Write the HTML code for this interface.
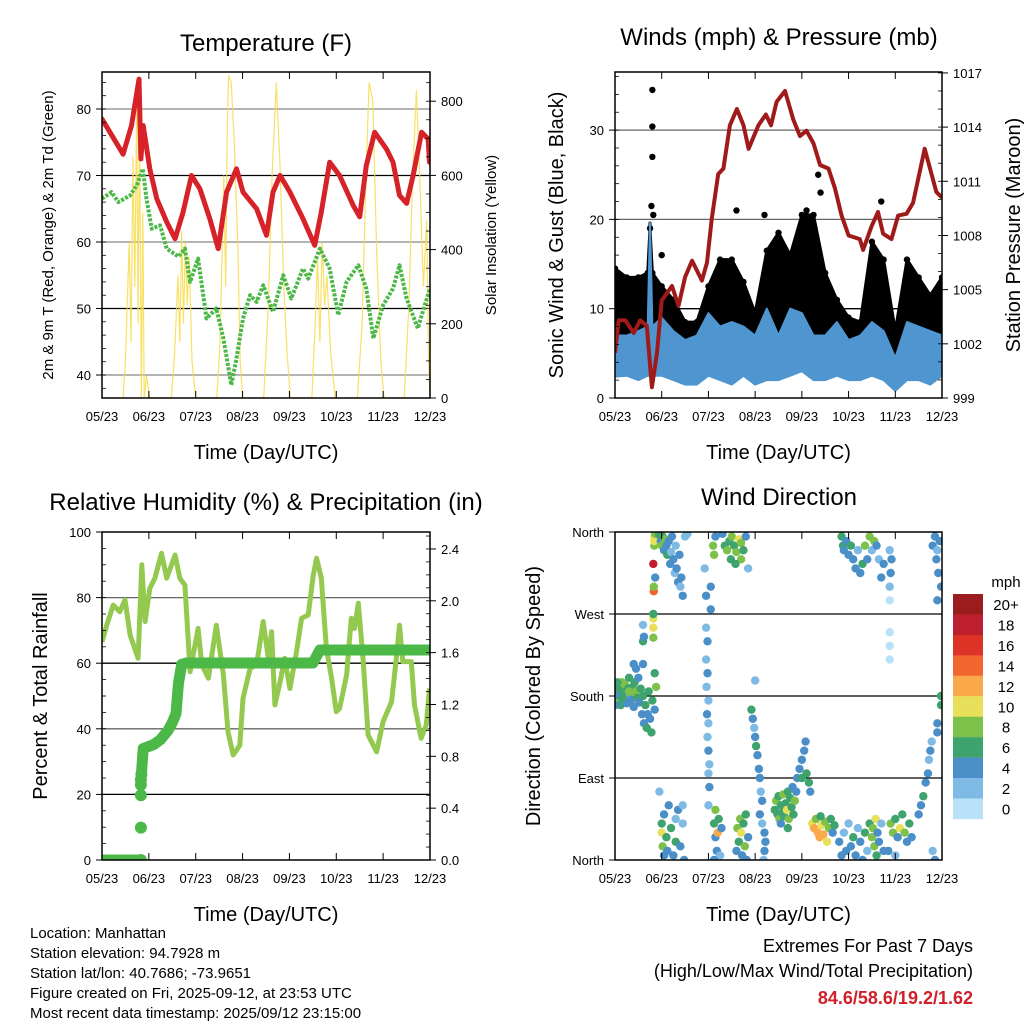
<!DOCTYPE html>
<html><head><meta charset="utf-8">
<style>
html,body{margin:0;padding:0;background:#fff;}
svg{display:block;font-family:"Liberation Sans",sans-serif;}
</style></head>
<body>
<svg id="c" width="1024" height="1024" viewBox="0 0 1024 1024" xmlns="http://www.w3.org/2000/svg"></svg>
<script>
// ---------- DATA ----------
const dayTicks = ["05/23","06/23","07/23","08/23","09/23","10/23","11/23","12/23"];
// Temperature (red)
const tempT = [0,0.17,0.45,0.63,0.79,0.83,0.88,1.02,1.17,1.38,1.56,1.73,1.91,2.09,2.3,2.48,2.66,2.87,3.01,3.3,3.51,3.65,3.8,4.01,4.29,4.54,4.68,4.86,5.07,5.36,5.5,5.64,5.82,6.07,6.21,6.35,6.5,6.64,6.82,6.96,6.99];
const tempV = [78.5,76.5,73.2,77.5,84.5,72.5,77.5,71,66.5,63,60.5,64.5,70,68,63.5,59,67.5,71,67.5,65,61,67.5,70,67.5,63.5,59.5,64.5,72,70,65.5,63.8,71.5,76.5,74,72,67,65.8,70,76.5,75.5,72];
// Dewpoint (green)
const dewT = [0,0.2,0.35,0.6,0.74,0.87,0.95,1.06,1.24,1.38,1.63,1.77,1.88,2.05,2.23,2.44,2.59,2.76,2.87,3.01,3.16,3.3,3.44,3.65,3.87,4.04,4.29,4.4,4.65,4.86,5.04,5.22,5.47,5.64,5.79,6.0,6.21,6.35,6.5,6.74,6.89,7];
const dewV = [66.5,67.5,66,67,68.5,71,66.5,62,62.5,59,57.8,59,54,57.5,48.5,50,45.5,38.5,42.5,48.5,52,51,53.5,49.5,55,51.5,56,54.5,59,56,49,54,56.5,53,45.5,50.5,53,56.5,51.5,47,50.5,53];
// Solar insolation (yellow)
const solT = [0,0.45,0.5,0.58,0.62,0.66,0.7,0.74,0.77,0.8,0.84,0.87,0.9,0.95,1.02,1.48,1.55,1.62,1.66,1.7,1.74,1.78,1.82,1.86,1.92,2.0,2.45,2.52,2.6,2.64,2.67,2.7,2.76,2.82,2.9,2.95,3.0,3.45,3.55,3.63,3.72,3.8,3.88,3.95,4.02,4.48,4.55,4.6,4.65,4.7,4.75,4.8,4.88,4.98,5.45,5.55,5.63,5.7,5.78,5.86,5.95,6.02,6.45,6.55,6.63,6.71,6.78,6.86,6.93,6.97,7.0];
const solV = [0,0,100,420,150,650,300,800,200,760,0,500,0,60,0,0,120,330,150,450,200,420,250,380,100,0,0,150,600,300,700,870,850,700,400,100,0,0,250,600,850,620,300,120,0,0,200,380,150,420,250,330,120,0,0,200,580,850,800,400,100,0,0,250,600,830,600,300,480,100,0];
// Winds & pressure
const presT = [0,0.08,0.22,0.4,0.54,0.68,0.79,0.9,1.0,1.22,1.36,1.5,1.65,1.86,1.97,2.07,2.21,2.32,2.46,2.61,2.75,2.86,3.07,3.23,3.34,3.46,3.64,3.82,3.96,4.1,4.25,4.39,4.57,4.71,4.85,5.0,5.24,5.31,5.49,5.63,5.74,5.92,6.06,6.24,6.38,6.63,6.88,7];
const presV = [1001.5,1003.3,1003.3,1002.6,1003.3,1003,999.6,1001.5,1004.4,1005.2,1004.1,1005.7,1006.6,1005.5,1006.5,1008.9,1011.4,1011.7,1014.1,1015,1014.1,1012.8,1014.1,1014.7,1014.1,1015.4,1016,1014.4,1013.5,1013.8,1013.1,1011.9,1011.7,1010.6,1009.1,1008,1007.8,1007.2,1008.5,1009.3,1008.1,1007.8,1009.1,1009.2,1009.8,1012.8,1010.4,1010.1];
const windT = [0,0.25,0.5,0.7,0.75,0.8,1,1.25,1.5,1.75,2,2.25,2.5,2.75,3,3.25,3.5,3.75,4,4.25,4.5,4.75,5,5.25,5.5,5.75,6,6.25,6.5,6.75,7];
const gustHi = [14.5,13.5,13.5,14,19,14,12.5,11,8.5,8.5,12.5,15.5,15.5,13,9.5,16.5,18.5,16,20.5,20.5,14,11,9,8.5,17.5,15.5,7.5,15.5,13.5,11.5,13.5];
const windHi = [7,7,7.5,8,19.6,8,9,7.5,6.5,7,9.5,8,8.5,8,7,10,7,10,9.5,7,7,8.5,6.5,7,8.5,7.5,4.5,8.5,8,7.5,7];
const windLo = [2.4,2.5,2,2.5,2.5,2.5,2.5,2,1.5,1.5,2.5,2,1.5,2.5,1.5,2,2,2.5,3,2,2,2.5,2,2,2.5,2,0.8,2,2,1.5,2.5];
const gustOutT = [0.8,0.8,0.8,0.78,0.82,2.6,4.35,4.4,5.7,1.0,3.2,4.1];
const gustOutV = [34.5,30.4,27,21.5,20.5,21,25,23,22,16,20.5,21];
// Humidity & precip
const rhT = [0,0.1,0.24,0.38,0.49,0.6,0.77,0.85,0.92,1.02,1.13,1.27,1.38,1.56,1.66,1.77,1.88,2.05,2.13,2.27,2.44,2.59,2.69,2.8,2.94,3.01,3.16,3.3,3.44,3.55,3.62,3.69,3.8,3.9,4.01,4.15,4.26,4.4,4.51,4.58,4.68,4.79,4.9,5.0,5.07,5.22,5.32,5.39,5.47,5.57,5.68,5.86,6.0,6.18,6.28,6.35,6.42,6.6,6.67,6.81,6.92,6.99];
const rhV = [66.5,71.6,77.7,75.7,79.3,68.6,61.5,90,72.7,82.8,85.9,93.5,85.9,93,85.9,83.8,57.4,70.6,59.5,55.4,71.6,56.4,39.1,32,35,49.3,58.4,59.5,72.7,61.5,69.6,47.3,54.4,61.5,52.3,63.5,73.7,74.7,86.9,92,85.9,64.5,55.4,45.2,46.2,56.4,73.7,70.6,78.3,61.5,38.1,33,42.2,48.3,61.5,71.6,60.5,60.5,47.3,37.1,41.2,52.3];
const prT = [0,0.2,0.4,0.6,0.83,0.83,0.83,0.83,0.83,0.84,0.88,1.1,1.25,1.41,1.5,1.58,1.63,1.7,1.8,2.5,3.5,4.5,4.65,5.5,6.5,7];
const prV = [0,0,0,0,0,0.25,0.5,0.58,0.62,0.66,0.86,0.89,0.93,1.0,1.06,1.13,1.36,1.51,1.52,1.52,1.52,1.52,1.62,1.62,1.62,1.62];
// Wind direction: [day, degrees, speed]
const dirPts = [
[0.02,185,6],[0.05,175,8],[0.08,190,7],[0.1,180,4],[0.12,170,6],[0.15,195,8],[0.18,185,7],[0.2,178,5],[0.22,192,8],[0.25,172,4],[0.28,188,6],[0.3,200,7],[0.33,182,8],[0.35,176,5],[0.38,190,6],[0.4,168,4],[0.42,195,6],[0.45,185,8],[0.48,178,7],[0.5,200,5],[0.52,173,4],[0.55,188,7],[0.58,160,4],[0.6,180,6],[0.62,150,4],[0.65,170,7],[0.68,145,6],[0.7,160,4],[0.72,185,6],[0.75,155,5],[0.78,140,6],[0.8,175,7],[0.85,165,4],[0.88,190,8],[0.4,215,4],[0.45,210,4],[0.6,215,4],[0.85,205,6],[0.0,170,4],[0.05,195,6],[0.15,178,6],[0.3,185,8],
[0.6,240,6],[0.62,245,4],[0.6,258,2],[0.82,244,8],[0.82,255,10],[0.82,265,10],[0.82,270,6],[0.83,295,14],[0.83,300,8],[0.82,325,18],[0.86,310,4],[0.84,345,8],[0.84,350,10],[0.84,355,10],[0.86,358,8],
[0.95,357,6],[0.98,350,4],[1.0,345,8],[1.02,355,6],[1.05,340,4],[1.08,352,8],[1.1,345,4],[1.12,335,6],[1.15,350,4],[1.18,325,4],[1.2,338,2],[1.22,355,4],[1.25,330,4],[1.28,315,2],[1.3,345,2],[1.32,320,4],[1.35,305,4],[1.4,300,2],[1.38,335,4],[1.42,310,4],[1.45,290,4],[1.5,355,2],[1.55,358,2],
[0.95,75,2],[1.0,40,6],[1.02,15,8],[1.0,30,10],[1.05,50,4],[1.05,5,4],[1.1,25,6],[1.12,10,4],[1.15,60,4],[1.2,35,6],[1.25,5,4],[1.3,20,6],[1.3,45,2],[1.35,55,4],[1.4,15,4],[1.45,40,2],[1.48,0,4],[1.45,60,2],
[1.92,320,2],[1.95,290,4],[1.95,255,2],[1.98,240,4],[1.95,220,2],[1.98,205,4],[1.96,190,2],[2.0,175,2],[1.97,160,4],[2.0,150,2],[1.98,135,2],[2.0,120,4],[2.02,105,2],[2.0,95,2],[2.02,80,4],[2.0,60,2],[2.05,300,4],[2.05,275,4],
[2.12,40,6],[2.15,25,4],[2.15,55,8],[2.18,10,4],[2.2,30,12],[2.22,45,6],[2.25,5,2],[2.12,0,4],[2.28,35,4],
[2.1,345,8],[2.12,335,8],[2.15,355,4],[2.3,358,4],[2.35,345,6],[2.4,340,8],[2.45,350,6],[2.48,330,6],[2.5,355,8],[2.55,345,6],[2.6,338,8],[2.65,352,10],[2.7,348,8],[2.75,340,6],[2.8,355,4],[2.7,330,8],[2.58,325,6],[2.85,320,2],
[2.6,10,4],[2.62,35,8],[2.65,20,6],[2.68,45,8],[2.7,30,10],[2.72,5,4],[2.75,40,6],[2.78,15,8],[2.8,50,6],[2.85,25,4],[2.82,0,4],
[2.92,165,6],[2.95,155,4],[2.98,145,2],[3.0,135,4],[3.02,125,6],[3.05,115,4],[3.08,100,4],[3.1,90,4],[3.12,75,2],[3.15,65,4],[3.1,50,4],[3.15,40,2],[3.2,30,4],[3.22,20,4],[3.18,0,2],[3.2,10,4],[3.0,197,2],
[3.42,55,6],[3.45,65,8],[3.48,50,6],[3.5,70,6],[3.52,45,8],[3.55,60,6],[3.58,52,6],[3.6,72,8],[3.62,48,6],[3.65,62,6],[3.68,55,10],[3.7,75,6],[3.72,45,8],[3.75,68,6],[3.78,58,6],[3.8,80,4],[3.82,50,6],[3.85,65,8],[3.88,75,4],[3.55,40,4],[3.7,35,6],
[3.9,90,4],[3.95,100,4],[4.0,110,4],[4.05,120,4],[4.08,130,4],[4.1,95,6],[4.15,85,6],[4.18,75,4],[4.0,90,6],
[4.22,40,10],[4.26,35,12],[4.3,45,8],[4.34,30,12],[4.38,25,12],[4.42,38,10],[4.46,28,12],[4.5,42,8],[4.54,20,10],[4.58,35,8],[4.62,45,6],[4.66,30,4],[4.7,38,6],[4.4,48,6],
[4.8,20,4],[4.85,5,4],[4.9,30,2],[4.95,10,4],[5.0,40,2],[5.05,15,4],[5.1,25,6],[5.15,5,4],[5.2,35,2],[5.25,20,4],[5.3,0,4],[5.35,30,6],[5.4,10,2],[5.45,40,6],[5.5,25,8],[5.52,35,8],[5.55,15,8],[5.58,45,10],[5.6,5,6],[5.62,30,4],[5.65,20,4],[5.7,40,2],[5.75,10,4],
[4.85,355,6],[4.88,345,6],[4.9,340,4],[4.95,350,4],[5.0,335,4],[5.05,345,6],[5.1,330,4],[5.15,320,4],[5.2,340,2],[5.25,315,4],[5.3,325,6],[5.35,345,8],[5.4,330,4],[5.45,355,8],[5.5,340,2],[5.55,350,8],[5.6,345,4],[5.65,330,2],[5.7,310,4],[5.75,325,4],
[5.88,250,0],[5.88,235,0],[5.88,220,0],[5.88,285,0],[5.88,300,2],[5.9,315,4],[5.92,330,4],[5.88,340,2],
[5.9,40,8],[5.95,30,8],[6.0,45,6],[6.05,25,4],[6.1,35,10],[6.15,50,6],[6.2,30,8],[6.25,20,4],[6.3,40,6],[5.85,10,4],[6.0,5,2],[6.35,25,4],
[6.5,50,4],[6.55,60,4],[6.6,70,6],[6.65,85,4],[6.7,95,4],[6.72,110,2],[6.75,120,4],[6.78,130,2],[6.8,10,2],[6.85,0,4],[6.9,140,4],
[6.8,345,4],[6.85,355,4],[6.88,330,4],[6.9,340,2],[6.92,315,4],[6.95,350,4],[6.98,300,4],[6.9,285,4],[7.0,350,4],[6.98,170,6],[6.98,180,6],[6.9,150,4]
];
const cbLabels = ["20+","18","16","14","12","10","8","6","4","2","0"];
const cbColors = ["#9b1c1f","#bf1e2e","#dd3327","#f2652e","#f9a94a","#e8e05a","#7dc14a","#3fa36d","#4a8fc7","#7fbae5","#b8e2f8"];

// ---------- HELPERS ----------
const svg = document.getElementById('c');
const NS = 'http://www.w3.org/2000/svg';
function mk(tag, attrs, parent){
  const e = document.createElementNS(NS, tag);
  for (const k in attrs) e.setAttribute(k, attrs[k]);
  (parent || svg).appendChild(e);
  return e;
}
function txt(s, x, y, size, anchor, parent, extra){
  const t = mk('text', Object.assign({x:x, y:y, 'font-size':size, 'text-anchor':anchor||'middle', fill:'#000'}, extra||{}), parent);
  t.textContent = s;
  return t;
}
function pathD(xs, ys){ return xs.map((x,i)=>(i?'L':'M')+x.toFixed(1)+' '+ys[i].toFixed(1)).join(''); }
function colorFor(s){ let i = Math.min(10, Math.floor(s/2)); return cbColors[10-i]; }

const P = {
  p1:{x0:102,x1:430,y0:72,y1:398},
  p2:{x0:615,x1:942,y0:72,y1:398},
  p3:{x0:102,x1:430,y0:532,y1:860},
  p4:{x0:615,x1:942,y0:532,y1:860}
};
function xs(p){ return d => p.x0 + d*(p.x1-p.x0)/7; }

function clip(id, p){
  const defs = mk('defs', {});
  const cp = mk('clipPath', {id:id}, defs);
  mk('rect', {x:p.x0, y:p.y0, width:p.x1-p.x0, height:p.y1-p.y0}, cp);
}
function frame(p, g){
  mk('rect', {x:p.x0, y:p.y0, width:p.x1-p.x0, height:p.y1-p.y0, fill:'none', stroke:'#000', 'stroke-width':1.5}, g);
}
function xAxis(p, g){
  const X = xs(p);
  for (let i=0;i<dayTicks.length;i++){
    const x = X(i);
    mk('line', {x1:x, x2:x, y1:p.y1, y2:p.y1-7, stroke:'#000', 'stroke-width':1}, g);
    mk('line', {x1:x, x2:x, y1:p.y0, y2:p.y0+7, stroke:'#000', 'stroke-width':1}, g);
    const t = txt(dayTicks[i], x, p.y1+23, 13, 'middle', g);
    
    
  }
  const tt = txt('Time (Day/UTC)', (p.x0+p.x1)/2, p.y1+61, 20, 'middle', g);
  
  
}
function hgrid(p, ys, colors, g){
  ys.forEach((y,i)=>mk('line', {x1:p.x0, x2:p.x1, y1:y, y2:y, stroke:colors[i], 'stroke-width':1.3}, g));
}
function yTicks(p, vals, labels, yf, side, g, size, minorStep, lo, hi){
  vals.forEach((v,i)=>{
    const y = yf(v);
    if (side==='left'){
      mk('line', {x1:p.x0, x2:p.x0-6, y1:y, y2:y, stroke:'#000'}, g);
      txt(labels[i], p.x0-11, y+5, size, 'end', g);
    } else {
      mk('line', {x1:p.x1, x2:p.x1+6, y1:y, y2:y, stroke:'#000'}, g);
      txt(labels[i], p.x1+11, y+5, size, 'start', g);
    }
  });
  if (minorStep){
    for (let v=lo; v<=hi+1e-9; v+=minorStep){
      const y = yf(v);
      if (y<p.y0-0.5||y>p.y1+0.5) continue;
      if (side==='left') mk('line', {x1:p.x0, x2:p.x0+4, y1:y, y2:y, stroke:'#000', 'stroke-width':0.8}, g);
      else mk('line', {x1:p.x1, x2:p.x1-4, y1:y, y2:y, stroke:'#000', 'stroke-width':0.8}, g);
    }
  }
}
function ytitle(s, x, y, size, g, name){
  const t = txt(s, x, y, size, 'middle', g, {transform:'rotate(-90 '+x+' '+y+')'});
  
  
}

// ---------- PANEL 1: Temperature ----------
(function(){
  const p = P.p1, X = xs(p);
  const g = mk('g', {});
  
  
  clip('cl1', p);
  const Y = t => 375 - (t-40)*6.65;
  const YS = w => 398 - w*0.371;
  hgrid(p, [Y(40),Y(50),Y(60),Y(70),Y(80)], ['#888','#000','#888','#000','#888'], g);
  const cg = mk('g', {'clip-path':'url(#cl1)'}, g);
  const sol = mk('path', {d:pathD(solT.map(X), solV.map(YS)), fill:'none', stroke:'#f7dc4a', 'stroke-width':1.2, opacity:0.85}, cg);
  
  
  const dew = mk('path', {d:pathD(dewT.map(X), dewV.map(Y)), fill:'none', stroke:'#4cb848', 'stroke-width':4, 'stroke-dasharray':'3 1.5', 'stroke-linejoin':'round'}, cg);
  
  
  const tmp = mk('path', {d:pathD(tempT.map(X), tempV.map(Y)), fill:'none', stroke:'#d62228', 'stroke-width':5, 'stroke-linejoin':'round', 'stroke-linecap':'round'}, cg);
  
  
  frame(p, g);
  yTicks(p, [40,50,60,70,80], ['40','50','60','70','80'], Y, 'left', g, 13, 2, 38, 86);
  yTicks(p, [0,200,400,600,800], ['0','200','400','600','800'], YS, 'right', g, 13, 50, 0, 850);
  xAxis(p, g);
  const ti = txt('Temperature (F)', 266, 51, 24, 'middle', g);
  
  
  ytitle('2m & 9m T (Red, Orange) & 2m Td (Green)', 53, 235, 15, g, 'temperature-y-axis-title');
  ytitle('Solar Insolation (Yellow)', 496, 235, 15, g, 'solar-y-axis-title');
})();

// ---------- PANEL 2: Winds & Pressure ----------
(function(){
  const p = P.p2, X = xs(p);
  const g = mk('g', {});
  
  
  clip('cl2', p);
  const Y = s => 398 - s*8.93;
  const YP = v => 398 - (v-999)*18.06;
  hgrid(p, [Y(10),Y(20),Y(30)], ['#000','#666','#666'], g);
  const cg = mk('g', {'clip-path':'url(#cl2)'}, g);
  const gx = windT.map(X);
  const bandD = pathD(gx, gustHi.map(Y)) + pathD(gx.slice().reverse(), windHi.map(Y).reverse()).replace('M','L') + 'Z';
  const gb = mk('path', {d:bandD, fill:'#000', stroke:'#000', 'stroke-width':3, 'stroke-linejoin':'round'}, cg);
  
  
  for (let i=0;i<windT.length;i++){
    const d = mk('circle', {cx:X(windT[i]), cy:Y(gustHi[i]), r:3.2, fill:'#000'}, cg);
    
    
  }
  for (let i=0;i<gustOutT.length;i++){
    const d = mk('circle', {cx:X(gustOutT[i]), cy:Y(gustOutV[i]), r:3.2, fill:'#000'}, cg);
    
    
  }
  const wbD = pathD(gx, windHi.map(Y)) + pathD(gx.slice().reverse(), windLo.map(Y).reverse()).replace('M','L') + 'Z';
  const wb = mk('path', {d:wbD, fill:'#4f96d0', stroke:'#4f96d0', 'stroke-width':2, 'stroke-linejoin':'round'}, cg);
  
  
  const pr = mk('path', {d:pathD(presT.map(X), presV.map(YP)), fill:'none', stroke:'#a01a1a', 'stroke-width':4, 'stroke-linejoin':'round'}, cg);
  
  
  frame(p, g);
  yTicks(p, [0,10,20,30], ['0','10','20','30'], Y, 'left', g, 13, 2, 0, 36);
  yTicks(p, [999,1002,1005,1008,1011,1014,1017], ['999','1002','1005','1008','1011','1014','1017'], YP, 'right', g, 13, 1, 999, 1017);
  xAxis(p, g);
  const ti = txt('Winds (mph) & Pressure (mb)', 779, 45, 24, 'middle', g);
  
  
  ytitle('Sonic Wind & Gust (Blue, Black)', 563, 235, 20, g, 'wind-y-axis-title');
  ytitle('Station Pressure (Maroon)', 1020, 235, 20, g, 'pressure-y-axis-title');
})();

// ---------- PANEL 3: Humidity & Precipitation ----------
(function(){
  const p = P.p3, X = xs(p);
  const g = mk('g', {});
  
  
  clip('cl3', p);
  const Y = r => 860 - r*3.28;
  const YR = v => 860 - v*129.6;
  hgrid(p, [Y(20),Y(40),Y(60),Y(80)], ['#000','#666','#000','#666'], g);
  const cg = mk('g', {'clip-path':'url(#cl3)'}, g);
  const rh = mk('path', {d:pathD(rhT.map(X), rhV.map(Y)), fill:'none', stroke:'#94c94f', 'stroke-width':5, 'stroke-linejoin':'round'}, cg);
  
  
  const pl = mk('path', {d:pathD(prT.slice(9).map(X), prV.slice(9).map(YR)), fill:'none', stroke:'#4cb848', 'stroke-width':11, 'stroke-linejoin':'round', 'stroke-linecap':'round'}, cg);
  
  
  const pz = mk('path', {d:pathD(prT.slice(0,5).map(X), prV.slice(0,5).map(YR)), fill:'none', stroke:'#4cb848', 'stroke-width':11, 'stroke-linecap':'round'}, cg);
  
  
  for (let i=4;i<10;i++){
    const c = mk('circle', {cx:X(prT[i]), cy:YR(prV[i]), r:6, fill:'#4cb848'}, cg);
    
    
  }
  frame(p, g);
  yTicks(p, [0,20,40,60,80,100], ['0','20','40','60','80','100'], Y, 'left', g, 13, 5, 0, 100);
  yTicks(p, [0,0.4,0.8,1.2,1.6,2.0,2.4], ['0.0','0.4','0.8','1.2','1.6','2.0','2.4'], YR, 'right', g, 13, 0.1, 0, 2.5);
  xAxis(p, g);
  const ti = txt('Relative Humidity (%) & Precipitation (in)', 266, 510, 24, 'middle', g);
  
  
  ytitle('Percent & Total Rainfall', 47, 696, 20, g, 'humidity-y-axis-title');
})();

// ---------- PANEL 4: Wind Direction ----------
(function(){
  const p = P.p4, X = xs(p);
  const g = mk('g', {});
  
  
  clip('cl4', p);
  const Y = d => 860 - d*328/360;
  hgrid(p, [Y(90),Y(180),Y(270)], ['#000','#000','#000'], g);
  const cg = mk('g', {'clip-path':'url(#cl4)'}, g);
  dirPts.forEach(pt=>{
    const c = mk('circle', {cx:X(pt[0]), cy:Y(pt[1]), r:4.2, fill:colorFor(pt[2])}, cg);
    
    
  });
  frame(p, g);
  yTicks(p, [0,90,180,270,360], ['North','East','South','West','North'], Y, 'left', g, 13, 0, 0, 0);
  xAxis(p, g);
  const ti = txt('Wind Direction', 779, 505, 24, 'middle', g);
  
  
  ytitle('Direction (Colored By Speed)', 540, 696, 20, g, 'direction-y-axis-title');
  const cb = mk('g', {}, g);
  
  
  const ml = txt('mph', 1006, 587, 15, 'middle', cb);
  
  
  for (let i=0;i<cbLabels.length;i++){
    const y = 594 + i*20.45;
    const r = mk('rect', {x:953, y:y, width:30, height:20.6, fill:cbColors[i]}, cb);
    
    
    const t = txt(cbLabels[i], 1006, y+16, 15, 'middle', cb);
    
    
  }
})();

// ---------- FOOTER ----------
(function(){
  const g = mk('g', {});
  
  
  const lines = ["Location: Manhattan","Station elevation: 94.7928 m","Station lat/lon: 40.7686; -73.9651","Figure created on Fri, 2025-09-12, at 23:53 UTC","Most recent data timestamp: 2025/09/12 23:15:00"];
  lines.forEach((s,i)=>txt(s, 30, 938+i*20, 15, 'start', g));
  const g2 = mk('g', {});
  
  
  txt('Extremes For Past 7 Days', 973, 952, 18, 'end', g2);
  txt('(High/Low/Max Wind/Total Precipitation)', 973, 977, 18, 'end', g2);
  const v = txt('84.6/58.6/19.2/1.62', 973, 1004, 18, 'end', g2, {fill:'#d0202a', 'font-weight':'bold'});
  
  
})();
</script>
</body></html>
